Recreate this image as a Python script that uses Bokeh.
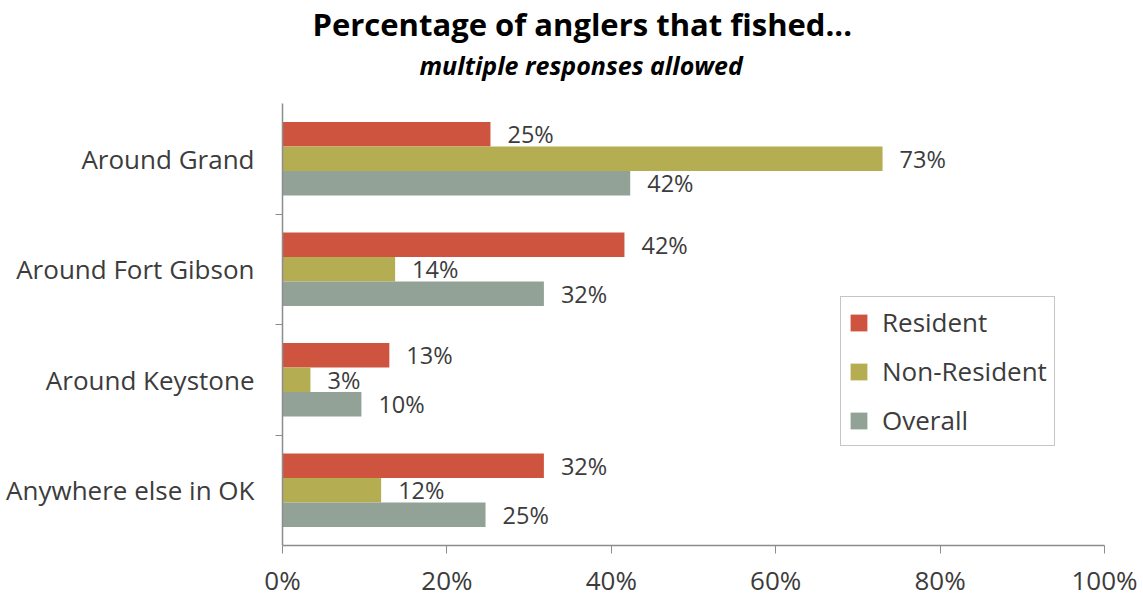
from bokeh.plotting import figure
from bokeh.models import (ColumnDataSource, FactorRange, Range1d, CategoricalAxis,
                          FixedTicker, PrintfTickFormatter, Title, Legend)
from bokeh.transform import dodge
from bokeh.core.properties import value
from bokeh.embed import file_html
from bokeh.resources import INLINE

# ---- data ----
categories = ["Around Grand", "Around Fort Gibson", "Around Keystone", "Anywhere else in OK"]
resident = [25.3, 41.6, 13.0, 31.8]
non_resident = [73.0, 13.7, 3.4, 12.0]
overall = [42.3, 31.8, 9.6, 24.7]
x_ticks = [0, 20, 40, 60, 80, 100]
series_names = ["Resident", "Non-Resident", "Overall"]
colors = ["#CF5440", "#B5AD52", "#93A297"]

FONT = "Open Sans"
TXT = "#3c3c3c"
AX = "#8c8c8c"

src = ColumnDataSource(dict(
    cat=categories,
    res=resident, nres=non_resident, ov=overall,
    res_l=[f"{v:.0f}%" for v in resident],
    nres_l=[f"{v:.0f}%" for v in non_resident],
    ov_l=[f"{v:.0f}%" for v in overall],
))

p = figure(width=1143, height=600,
           y_range=FactorRange(*categories[::-1]),
           x_range=Range1d(0, 100),
           y_axis_location=None,
           output_backend="svg", toolbar_location=None,
           min_border_left=282, min_border_right=39,
           min_border_top=103, min_border_bottom=55)
p.outline_line_color = None
p.xgrid.visible = False
p.ygrid.visible = False

# titles (blank spacer nearest the frame, then subtitle, then title)
spacer = Title(text=" ", text_font=FONT, text_font_size="10px", text_color="white",
               standoff=6)
p.add_layout(spacer, "above")
sub = Title(text="multiple responses allowed", align="left", offset=137,
            text_font=FONT, text_font_size="25px", text_font_style="bold italic",
            text_color="#000000", standoff=0, vertical_align="bottom")
p.add_layout(sub, "above")
ttl = Title(text="Percentage of anglers that fished...", align="left", offset=30,
            text_font=FONT, text_font_size="31px", text_font_style="bold",
            text_color="#000000", standoff=1, vertical_align="bottom")
p.add_layout(ttl, "above")

# y axes: ticks at the category boundaries (a shifted factor range) + category labels
bounds = [f"b{i}" for i in range(len(categories) + 1)]
p.extra_y_ranges = {"bnd": FactorRange(factors=bounds, range_padding=-0.5,
                                       range_padding_units="absolute")}
bax = CategoricalAxis(y_range_name="bnd",
                      major_label_text_font_size="0px", major_label_text_color=None,
                      major_label_standoff=0,
                      major_tick_out=7, major_tick_in=0, major_tick_line_color=AX,
                      axis_line_color=AX, axis_line_width=1.5)
p.add_layout(bax, "left")
cax = CategoricalAxis(axis_line_color=None, major_tick_line_color=None, major_tick_out=0,
                      major_tick_in=0, major_label_standoff=21,
                      major_label_text_font=FONT, major_label_text_font_size="26px",
                      major_label_text_color=TXT)
p.add_layout(cax, "left")

# x axis
xa = p.xaxis[0]
xa.ticker = FixedTicker(ticks=x_ticks)
xa.formatter = PrintfTickFormatter(format="%d%%")
xa.major_tick_out = 8
xa.major_tick_in = 0
xa.minor_tick_line_color = None
xa.axis_line_color = AX
xa.axis_line_width = 1.5
xa.major_tick_line_color = AX
xa.major_label_text_font = FONT
xa.major_label_text_font_size = "26px"
xa.major_label_text_color = TXT
xa.major_label_standoff = 8

# bars
bh = 0.222
offs = [bh, 0.0, -bh]
fields = ["res", "nres", "ov"]
renderers = []
for f, o, c, n in zip(fields, offs, colors, series_names):
    r = p.hbar(y=dodge("cat", o, range=p.y_range), left=0, right=f, height=bh,
               source=src, fill_color=c, line_color=None)
    renderers.append((n, [r]))
    p.text(x=f, y=dodge("cat", o, range=p.y_range), text=f + "_l", source=src,
           x_offset=17, text_baseline="middle", text_align="left",
           text_font=value(FONT), text_font_size="23.5px", text_color=TXT)

leg = Legend(items=renderers, location=(558, 99), orientation="vertical",
             glyph_width=21, glyph_height=21, label_standoff=13, spacing=13,
             padding=7, margin=0,
             label_text_font=FONT, label_text_font_size="26px", label_text_color=TXT,
             border_line_color=AX, border_line_width=1.5, background_fill_color="white")
p.add_layout(leg, "center")

open("out.html", "w").write(file_html(p, INLINE))
